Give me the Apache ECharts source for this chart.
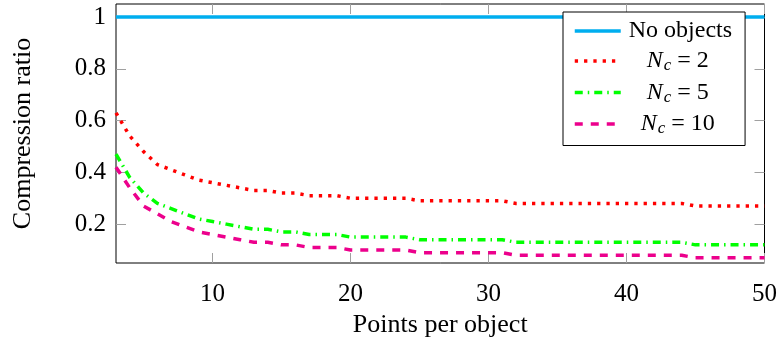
<!DOCTYPE html>
<html><head><meta charset="utf-8">
<script src="https://cdn.jsdelivr.net/npm/echarts@6/dist/echarts.min.js"></script>
<style>html,body{margin:0;padding:0;background:#fff}#c{width:780px;height:343px}</style>
</head><body><div id="c"></div>
<script>
const pointsPerObject = [3,4,5,6,7,8,9,10,11,12,13,14,15,16,17,18,19,20,21,22,23,24,25,26,27,28,29,30,31,32,33,34,35,36,37,38,39,40,41,42,43,44,45,46,47,48,49,50];
const noObjects = [1,1,1,1,1,1,1,1,1,1,1,1,1,1,1,1,1,1,1,1,1,1,1,1,1,1,1,1,1,1,1,1,1,1,1,1,1,1,1,1,1,1,1,1,1,1,1,1];
const nc2 = [0.63,0.54,0.48,0.43,0.41,0.39,0.37,0.36,0.35,0.34,0.33,0.33,0.32,0.32,0.31,0.31,0.31,0.30,0.30,0.30,0.30,0.30,0.29,0.29,0.29,0.29,0.29,0.29,0.29,0.28,0.28,0.28,0.28,0.28,0.28,0.28,0.28,0.28,0.28,0.28,0.28,0.28,0.27,0.27,0.27,0.27,0.27,0.27];
const nc5 = [0.47,0.38,0.32,0.28,0.26,0.24,0.22,0.21,0.20,0.19,0.18,0.18,0.17,0.17,0.16,0.16,0.16,0.15,0.15,0.15,0.15,0.15,0.14,0.14,0.14,0.14,0.14,0.14,0.14,0.13,0.13,0.13,0.13,0.13,0.13,0.13,0.13,0.13,0.13,0.13,0.13,0.13,0.12,0.12,0.12,0.12,0.12,0.12];
const nc10 = [0.42,0.34,0.27,0.24,0.21,0.19,0.17,0.16,0.15,0.14,0.13,0.13,0.12,0.12,0.11,0.11,0.11,0.10,0.10,0.10,0.10,0.10,0.09,0.09,0.09,0.09,0.09,0.09,0.09,0.08,0.08,0.08,0.08,0.08,0.08,0.08,0.08,0.08,0.08,0.08,0.08,0.08,0.07,0.07,0.07,0.07,0.07,0.07];
const xTicks = [10,20,30,40,50];
const yTicks = [0.2,0.4,0.6,0.8,1];
const seriesNames = ['No objects','N_c = 2','N_c = 5','N_c = 10'];

const FONT = 'Liberation Serif';
const pairs = ys => pointsPerObject.map((x,i)=>[x, ys[i]]);
const chart = echarts.init(document.getElementById('c'), null, {renderer:'canvas'});
const tickStyle = {show:true, inside:true, length:10, lineStyle:{color:'#a0a0a0', width:1}};
function mkSeries(name, ys, color, type, xi) {
  return {name, type:'line', data:pairs(ys), symbol:'none', showSymbol:false, smooth:false, animation:false,
    lineStyle:{color, width:3.5, type, cap:'butt'}, itemStyle:{color}, z: 2 + xi};
}
chart.setOption({
  animation:false,
  backgroundColor:'#fff',
  grid:{left:116, right:15, top:4, bottom:80, show:true, borderColor:'#000', borderWidth:1, backgroundColor:'transparent'},
  xAxis:[{
    type:'value', min:3, max:50,
    name:'Points per object', nameLocation:'middle', nameGap:47,
    nameTextStyle:{fontFamily:FONT, fontSize:26, color:'#000'},
    axisLine:{show:false}, splitLine:{show:false},
    axisTick:Object.assign({customValues:xTicks}, tickStyle),
    axisLabel:{customValues:xTicks, fontFamily:FONT, fontSize:25, color:'#000', margin:19}
  },{
    type:'value', min:3, max:50, position:'top',
    axisLine:{show:false}, splitLine:{show:false},
    axisTick:Object.assign({customValues:xTicks}, tickStyle),
    axisLabel:{show:false}
  }],
  yAxis:[{
    type:'value', min:0.05, max:1.05,
    name:'Compression ratio', nameLocation:'middle', nameGap:80,
    nameTextStyle:{fontFamily:FONT, fontSize:26, color:'#000'},
    axisLine:{show:false}, splitLine:{show:false},
    axisTick:Object.assign({customValues:yTicks}, tickStyle),
    axisLabel:{customValues:yTicks, fontFamily:FONT, fontSize:25, color:'#000', margin:10,
      formatter:v => (Math.abs(v-1)<1e-9 ? '1' : v.toFixed(1))}
  },{
    type:'value', min:0.05, max:1.05, position:'right',
    axisLine:{show:false}, splitLine:{show:false},
    axisTick:Object.assign({customValues:yTicks}, tickStyle),
    axisLabel:{show:false}
  }],
  legend:{
    orient:'vertical', left:563, top:12,
    padding:[7,13,8,10], itemGap:6, itemWidth:46, itemHeight:14,
    backgroundColor:'#fff', borderColor:'#000', borderWidth:1, borderRadius:0,
    itemStyle:{opacity:0},
    lineStyle:{width:3.5},
    data:seriesNames,
    formatter:function(name){
      if (name === 'No objects') return '{p0|}{t|No objects}';
      const num = name.split('= ')[1];
      const pad = num.length > 1 ? '{p2|}' : '{p1|}';
      return pad + '{n|N}{s|c}{t| = ' + num + '}';
    },
    textStyle:{fontFamily:FONT, fontSize:24, color:'#000',
      rich:{
        p0:{width:3}, p1:{width:21}, p2:{width:15},
        t:{fontFamily:FONT, fontSize:24, color:'#000'},
        n:{fontFamily:FONT, fontSize:24, fontStyle:'italic', color:'#000'},
        s:{fontFamily:FONT, fontSize:17, fontStyle:'italic', color:'#000', padding:[10,0,0,1]}
      }}
  },
  series:[
    mkSeries('No objects', noObjects, '#00AEEF', 'solid', 0),
    mkSeries('N_c = 2', nc2, '#FF0000', [3.3,6], 1),
    mkSeries('N_c = 5', nc5, '#00FF00', [8,5,1.5,5], 2),
    mkSeries('N_c = 10', nc10, '#EC008C', [8,8], 3)
  ]
});
</script></body></html>
